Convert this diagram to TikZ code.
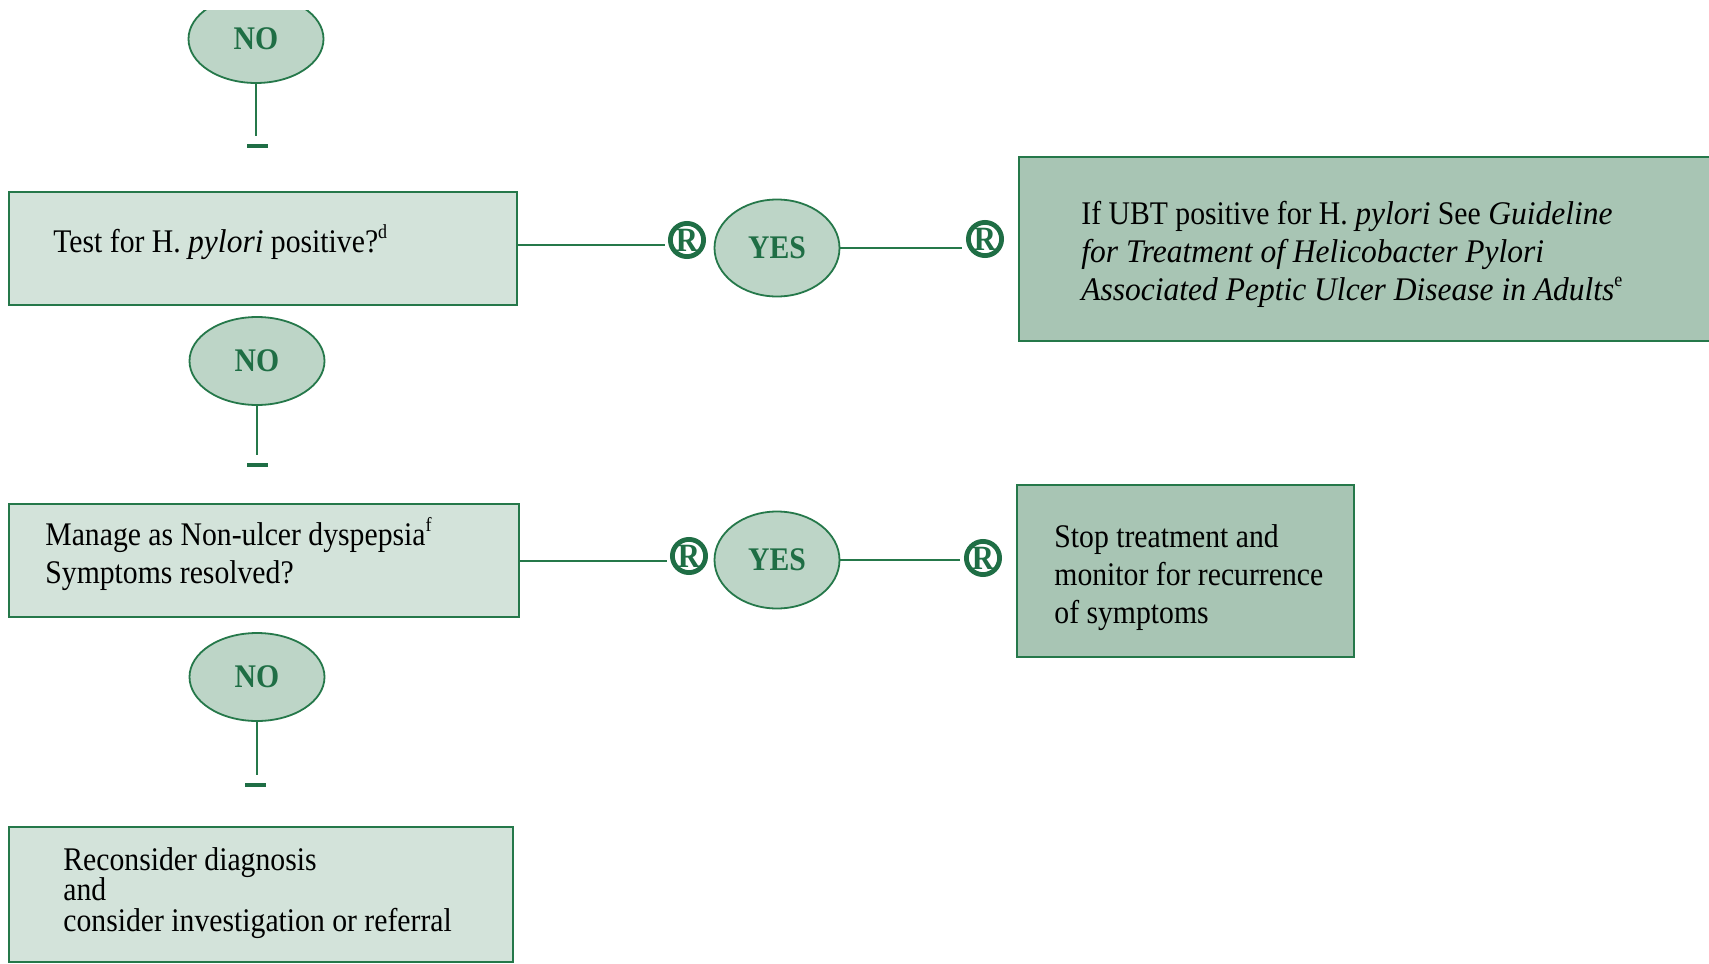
\documentclass[tikz,border=0pt]{standalone}
\usepackage{fontspec}
\setmainfont{Liberation Serif}[
  UprightFeatures={FakeStretch=0.90},
  BoldFeatures={FakeStretch=0.90},
  ItalicFeatures={FakeStretch=0.955}]
\usetikzlibrary{shapes.geometric}

\definecolor{edge}{HTML}{25784A}
\definecolor{paleFill}{HTML}{D3E3DA}
\definecolor{deepFill}{HTML}{A8C5B4}
\definecolor{ovalFill}{HTML}{BDD5C7}
\definecolor{labelGreen}{HTML}{1F6E45}

\tikzset{
  box/.style={rectangle, draw=edge, line width=1pt, inner sep=0pt},
  palebox/.style={box, fill=paleFill},
  deepbox/.style={box, fill=deepFill},
  oval/.style={ellipse, draw=edge, fill=ovalFill, line width=0.9pt, inner sep=0pt,
    text=labelGreen, font=\fontsize{16.5}{19}\selectfont\bfseries},
  nooval/.style={oval, minimum width=67.5pt, minimum height=44pt},
  yesoval/.style={oval, minimum width=62.5pt, minimum height=48.5pt},
  regmark/.style={circle, draw=labelGreen, line width=2.4pt, minimum size=16.6pt,
    inner sep=0pt, text=labelGreen, font=\fontsize{17}{17}\selectfont\bfseries},
  stopbar/.style={rectangle, fill=labelGreen, minimum width=10.5pt,
    minimum height=2pt, inner sep=0pt},
  conn/.style={draw=edge, line width=1pt},
  txt/.style={anchor=base west, inner sep=0pt, font=\fontsize{16.5}{19}\selectfont},
}
\newcommand\notemark[1]{\raisebox{0.42em}{\fontsize{10}{10}\selectfont #1}}

\begin{document}
\begin{tikzpicture}[x=0.5pt, y=-0.5pt]
  \useasboundingbox (0,0) rectangle (1709,964);
  \fill[white] (0,0) rectangle (1709,964);
  \clip (0,0) rectangle (1709,964);

  % first decision stub, cut at the top
  \begin{scope}
    \clip (0,10) rectangle (1709,964);
    \node[nooval] (no0) at (256,39) {NO};
  \end{scope}
  \node[stopbar] (bar0) at (257,146) {};
  \draw[conn] (no0.south) -- ([yshift=4pt]no0.south |- bar0.north);

  % test for H. pylori
  \node[palebox, minimum width=254pt, minimum height=56.5pt] (b1) at (263,248.5) {};
  \node[txt] (t1) at (53,252) {Test for H. \textit{pylori} positive?\notemark{d}};

  \node[regmark] (reg1) at (687,240) {R};
  \node[yesoval] (yes1) at (777,248) {YES};
  \node[regmark] (reg2) at (985,239) {R};
  \coordinate (c1) at ([xshift=-1.5pt, yshift=-2.5pt]reg1.west);
  \draw[conn] (b1.east |- c1) -- (c1);
  \coordinate (c2) at ([xshift=-2pt]reg2.west |- yes1.east);
  \draw[conn] (yes1.east) -- (c2);

  \node[deepbox, minimum width=370.5pt, minimum height=92pt] (b2) at (1389.5,249) {};
  \node[txt] (t2) at (1081,224) {\vtop{\baselineskip=19pt
      \hbox{If UBT positive for H. \textit{pylori} See \textit{Guideline}}
      \hbox{\textit{for Treatment of Helicobacter Pylori}}
      \hbox{\textit{Associated Peptic Ulcer Disease in Adults}\notemark{e}}}};

  % second decision
  \node[nooval] (no1) at (257,361) {NO};
  \node[stopbar] (bar1) at (257,465) {};
  \draw[conn] (no1.south) -- ([yshift=4pt]no1.south |- bar1.north);

  \node[palebox, minimum width=255pt, minimum height=56.5pt] (b3) at (264,560.5) {};
  \node[txt] (t3) at (45,545) {\vtop{\baselineskip=19pt
      \hbox{Manage as Non-ulcer dyspepsia\notemark{f}}
      \hbox{Symptoms resolved?}}};

  \node[regmark] (reg3) at (689,556) {R};
  \node[yesoval] (yes2) at (777,560) {YES};
  \node[regmark] (reg4) at (983,558) {R};
  \coordinate (c3) at ([xshift=-1.5pt]reg3.west |- b3.east);
  \draw[conn] (b3.east) -- (c3);
  \coordinate (c4) at ([xshift=-2pt]reg4.west |- yes2.east);
  \draw[conn] (yes2.east) -- (c4);

  \node[deepbox, minimum width=168.5pt, minimum height=86pt] (b4) at (1185.5,571) {};
  \node[txt] (t4) at (1054,547) {\vtop{\baselineskip=19pt
      \hbox{Stop treatment and}
      \hbox{monitor for recurrence}
      \hbox{of symptoms}}};

  % third decision
  \node[nooval] (no2) at (257,677) {NO};
  \node[stopbar] (bar2) at (255,785) {};
  \draw[conn] (no2.south) -- ([yshift=4pt]no2.south |- bar2.north);

  \node[palebox, minimum width=252pt, minimum height=67.5pt] (b5) at (261,894.5) {};
  \node[txt] (t5) at (63,870) {\vtop{\baselineskip=15.25pt
      \hbox{Reconsider diagnosis}
      \hbox{and}
      \hbox{consider investigation or referral}}};
\end{tikzpicture}
\end{document}
